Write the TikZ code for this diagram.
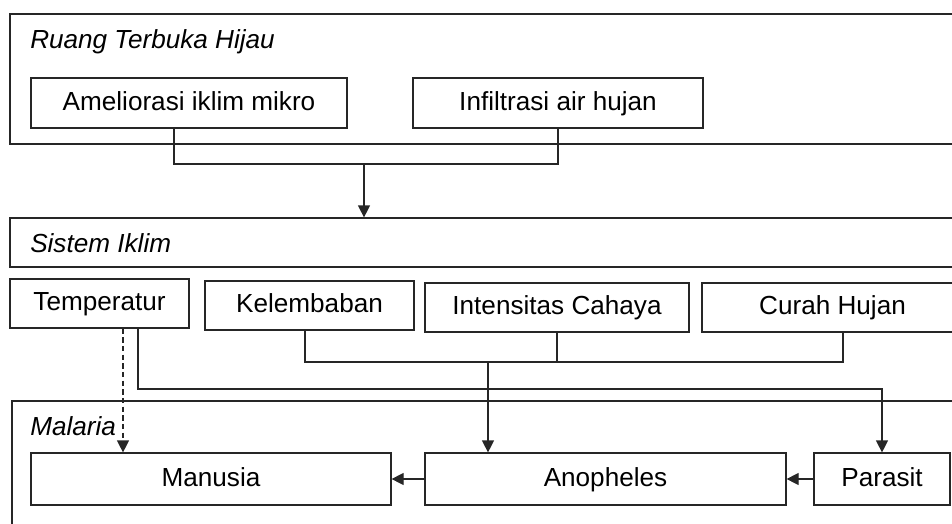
\documentclass[tikz,border=0pt]{standalone}
\usepackage{fontspec}
\setmainfont{Liberation Sans}
\usetikzlibrary{arrows.meta}
\tikzset{
  ln/.style={draw=black!85, line width=0.9pt},
  box/.style={ln, rectangle, inner sep=0pt, anchor=center, text height=14pt, text depth=3pt, font=\fontsize{19.6}{24}\selectfont},
  frame/.style={ln, rectangle, inner sep=0pt, anchor=center},
  ttl/.style={inner sep=0pt, anchor=base west, font=\fontsize{19.6}{24}\selectfont\itshape},
  arr/.style={ln, -{Triangle[width=9pt,length=9pt]}},
  darr/.style={arr, dash pattern=on 4pt off 2.5pt}
}
\begin{document}
\begin{tikzpicture}[x=0.75pt,y=-0.75pt]
\useasboundingbox (0,0) rectangle (952,524);
\clip (0,0) rectangle (952,524);
% frames
\node[frame, minimum width=742.5pt, minimum height=97.5pt] (rth) at (505,79) {};
\node[frame, minimum width=742.5pt, minimum height=36.75pt] (sistem) at (505,242.5) {};
\node[frame, minimum width=741pt, minimum height=119.25pt] (malaria) at (506,480.5) {};
\node[ttl] (trth) at (30,49) {Ruang Terbuka Hijau};
\node[ttl] (tsis) at (30,252) {Sistem Iklim};
\node[ttl] (tmal) at (30,435) {Malaria};
% boxes
\node[box, minimum width=237pt, minimum height=37.5pt] (amel) at (189,103) {Ameliorasi iklim mikro};
\node[box, minimum width=217.5pt, minimum height=37.5pt] (infil) at (558,103) {Infiltrasi air hujan};
\node[box, minimum width=134.25pt, minimum height=36.75pt] (temp) at (99.5,303.5) {Temperatur};
\node[box, minimum width=156.75pt, minimum height=36.75pt] (kel) at (309.5,305.5) {Kelembaban};
\node[box, minimum width=198pt, minimum height=36.75pt] (inten) at (557,307.5) {Intensitas Cahaya};
\node[box, minimum width=195.75pt, minimum height=36.75pt] (curah) at (832.5,307.5) {Curah Hujan};
\node[box, minimum width=270pt, minimum height=39pt] (manusia) at (211,479) {Manusia};
\node[box, minimum width=270.75pt, minimum height=39pt] (anoph) at (605.5,479) {Anopheles};
\node[box, minimum width=102pt, minimum height=39pt] (parasit) at (882,479) {Parasit};
% connectors
\coordinate (j1) at (364,164);
\draw[ln] (174,0 |- amel.south) -- (174,164) -| (infil.south);
\draw[arr] (j1) -- (364,0 |- sistem.north);
\coordinate (j2) at (488,362);
\draw[ln] (305,0 |- kel.south) -- (305,362) -| (843,0 |- curah.south);
\draw[ln] (inten.south) -- (inten.south |- j2);
\draw[arr] (j2) -- (488,0 |- anoph.north);
\draw[darr] (123,0 |- temp.south) -- (123,0 |- manusia.north);
\draw[arr] (138,0 |- temp.south) -- (138,389) -| (parasit.north);
\draw[arr] (anoph.west) -- (manusia.east);
\draw[arr] (parasit.west) -- (anoph.east);
\end{tikzpicture}
\end{document}
